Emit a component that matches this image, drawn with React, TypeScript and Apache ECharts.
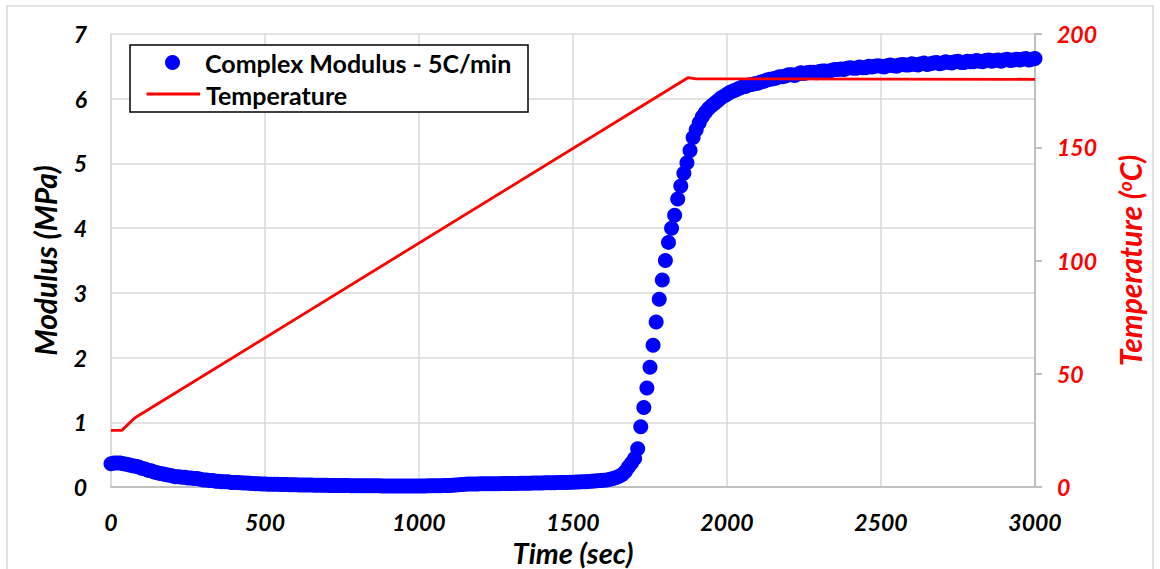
import React, { useEffect, useRef } from "react";
import * as echarts from "echarts";

// Complex modulus sampled every 10 s from t = 0 to t = 3000 s (MPa)
const MODULUS_STEP_SEC = 10;
const MODULUS_MPA = [
  0.36, 0.37, 0.37, 0.37, 0.36, 0.35, 0.34, 0.33, 0.32, 0.31,
  0.29, 0.28, 0.26, 0.25, 0.23, 0.22, 0.21, 0.2, 0.19, 0.18,
  0.17, 0.16, 0.16, 0.15, 0.15, 0.14, 0.14, 0.13, 0.13, 0.12,
  0.11, 0.11, 0.1, 0.1, 0.09, 0.09, 0.08, 0.08, 0.08, 0.07,
  0.07, 0.07, 0.065, 0.06, 0.06, 0.057, 0.055, 0.052, 0.05, 0.048,
  0.045, 0.044, 0.043, 0.042, 0.041, 0.04, 0.038, 0.037, 0.035, 0.034,
  0.033, 0.032, 0.031, 0.03, 0.03, 0.029, 0.028, 0.028, 0.027, 0.026,
  0.026, 0.025, 0.025, 0.024, 0.023, 0.023, 0.022, 0.022, 0.021, 0.021,
  0.02, 0.02, 0.02, 0.019, 0.019, 0.018, 0.018, 0.018, 0.017, 0.017,
  0.017, 0.016, 0.016, 0.016, 0.015, 0.015, 0.015, 0.015, 0.016, 0.016,
  0.016, 0.017, 0.017, 0.018, 0.018, 0.019, 0.02, 0.021, 0.022, 0.023,
  0.025, 0.027, 0.03, 0.033, 0.037, 0.041, 0.045, 0.046, 0.047, 0.048,
  0.049, 0.05, 0.05, 0.051, 0.051, 0.052, 0.052, 0.053, 0.053, 0.054,
  0.055, 0.055, 0.056, 0.057, 0.058, 0.058, 0.059, 0.06, 0.061, 0.062,
  0.063, 0.064, 0.065, 0.066, 0.067, 0.068, 0.069, 0.07, 0.071, 0.072,
  0.074, 0.076, 0.078, 0.08, 0.082, 0.085, 0.088, 0.091, 0.095, 0.1,
  0.105, 0.11, 0.12, 0.13, 0.145, 0.165, 0.195, 0.24, 0.31, 0.37,
  0.44, 0.59, 0.93, 1.23, 1.53, 1.85, 2.19, 2.55, 2.9, 3.2,
  3.5, 3.78, 4.0, 4.2, 4.45, 4.65, 4.85, 5.01, 5.2, 5.4,
  5.52, 5.63, 5.72, 5.79, 5.85, 5.89, 5.93, 5.97, 6.01, 6.04,
  6.07, 6.1, 6.12, 6.14, 6.16, 6.18, 6.19, 6.21, 6.22, 6.23,
  6.24, 6.26, 6.27, 6.29, 6.3, 6.31, 6.32, 6.34, 6.34, 6.35,
  6.37, 6.37, 6.36, 6.38, 6.4, 6.39, 6.4, 6.41, 6.41, 6.4,
  6.42, 6.43, 6.43, 6.42, 6.44, 6.45, 6.45, 6.46, 6.45, 6.47,
  6.48, 6.47, 6.47, 6.49, 6.48, 6.48, 6.5, 6.49, 6.5, 6.51,
  6.5, 6.49, 6.51, 6.52, 6.51, 6.5, 6.52, 6.53, 6.52, 6.52,
  6.54, 6.53, 6.52, 6.54, 6.55, 6.53, 6.54, 6.55, 6.56, 6.54,
  6.55, 6.57, 6.56, 6.55, 6.57, 6.58, 6.56, 6.56, 6.58, 6.57,
  6.57, 6.59, 6.58, 6.57, 6.59, 6.6, 6.58, 6.59, 6.6, 6.58,
  6.6, 6.61, 6.59, 6.6, 6.61, 6.6, 6.61, 6.62, 6.6, 6.61,
  6.62,
];

// Programmed temperature profile: hold, 5 C/min ramp, isothermal hold
const TEMP_TIME_SEC = [0, 35, 78, 1873, 1900, 3000];
const TEMP_C = [25, 25, 30.6, 180.7, 180.2, 180];

const X_TICKS = { min: 0, max: 3000, interval: 500 };
const Y_LEFT_TICKS = { min: 0, max: 7, interval: 1 };
const Y_RIGHT_TICKS = { min: 0, max: 200, interval: 50 };

const SERIES_MODULUS = "Complex Modulus - 5C/min";
const SERIES_TEMP = "Temperature";

const MODULUS_COLOR = "#0000ff";
const TEMP_COLOR = "#ff0000";
const FONT = 'Lato, "Open Sans", "DejaVu Sans", sans-serif';

export default function App() {
  const ref = useRef<HTMLDivElement>(null);

  useEffect(() => {
    if (!ref.current) return;
    const chart = echarts.init(ref.current, null, { renderer: "svg" });

    const modulusData = MODULUS_MPA.map((v, i) => [i * MODULUS_STEP_SEC, v]);
    const tempData = TEMP_TIME_SEC.map((t, i) => [t, TEMP_C[i]]);

    const tickLabel = (color: string) => ({
      fontFamily: FONT,
      fontWeight: "bold" as const,
      fontStyle: "italic" as const,
      fontSize: 23,
      color,
      formatter: (v: number) => String(v),
    });
    const axisName = (color: string, size: number) => ({
      fontFamily: FONT,
      fontWeight: "bold" as const,
      fontStyle: "italic" as const,
      fontSize: size,
      lineHeight: size,
      color,
    });
    const legendText = {
      fontFamily: FONT,
      fontWeight: "bold" as const,
      fontSize: 25,
      fill: "#000000",
      verticalAlign: "middle" as const,
      align: "left" as const,
    };

    chart.setOption({
      animation: false,
      backgroundColor: "#ffffff",
      grid: {
        left: 111,
        right: 125,
        top: 34,
        bottom: 82,
        containLabel: false,
        outerBoundsMode: "none",
      },
      xAxis: {
        type: "value",
        ...X_TICKS,
        name: "Time (sec)",
        nameLocation: "middle",
        nameGap: 40,
        nameTextStyle: axisName("#000000", 29),
        axisLine: { show: true, lineStyle: { color: "#bfbfbf", width: 2 } },
        axisTick: { show: false },
        axisLabel: { ...tickLabel("#000000"), margin: 23 },
        splitLine: { show: true, lineStyle: { color: "#d9d9d9", width: 1.5 } },
      },
      yAxis: [
        {
          type: "value",
          position: "left",
          ...Y_LEFT_TICKS,
          name: "Modulus (MPa)",
          nameLocation: "middle",
          nameRotate: 90,
          nameGap: 51,
          nameTextStyle: axisName("#000000", 30),
          axisLine: { show: true, lineStyle: { color: "#d9d9d9", width: 1.5 } },
          axisTick: { show: false },
          axisLabel: { ...tickLabel("#000000"), margin: 24 },
          splitLine: { show: true, lineStyle: { color: "#d9d9d9", width: 1.5 } },
        },
        {
          type: "value",
          position: "right",
          ...Y_RIGHT_TICKS,
          name: "Temperature ({sup|o}C)",
          nameLocation: "middle",
          nameRotate: 90,
          nameGap: 80,
          nameTextStyle: {
            ...axisName(TEMP_COLOR, 30),
            rich: {
              sup: {
                fontFamily: FONT,
                fontWeight: "bold",
                fontStyle: "italic",
                fontSize: 19,
                color: TEMP_COLOR,
                verticalAlign: "top",
              },
            },
          },
          axisLine: { show: true, lineStyle: { color: "#bfbfbf", width: 2 } },
          axisTick: { show: true, length: 7, lineStyle: { color: "#bfbfbf", width: 2 } },
          axisLabel: { ...tickLabel(TEMP_COLOR), margin: 22 },
          splitLine: { show: false },
        },
      ],
      graphic: [
        {
          type: "rect",
          silent: true,
          z: 0,
          shape: { x: 7, y: 6, width: 1146, height: 600 },
          style: { fill: "none", stroke: "#d9d9d9", lineWidth: 1.5 },
        },
        {
          type: "group",
          silent: true,
          z: 10,
          children: [
            {
              type: "rect",
              z: 10,
              shape: { x: 130, y: 45, width: 398, height: 67 },
              style: { fill: "#ffffff", stroke: "#000000", lineWidth: 1.5 },
            },
            {
              type: "circle",
              z: 11,
              shape: { cx: 172.5, cy: 62.5, r: 7.5 },
              style: { fill: MODULUS_COLOR },
            },
            {
              type: "text",
              z: 11,
              x: 205,
              y: 63,
              style: { ...legendText, text: SERIES_MODULUS },
            },
            {
              type: "line",
              z: 11,
              shape: { x1: 146.5, y1: 94, x2: 200, y2: 94 },
              style: { stroke: TEMP_COLOR, lineWidth: 3 },
            },
            {
              type: "text",
              z: 11,
              x: 206,
              y: 95,
              style: { ...legendText, text: SERIES_TEMP },
            },
          ],
        },
      ],
      series: [
        {
          name: SERIES_MODULUS,
          type: "scatter",
          yAxisIndex: 0,
          symbol: "circle",
          symbolSize: 15,
          clip: false,
          z: 3,
          itemStyle: { color: MODULUS_COLOR, opacity: 1 },
          data: modulusData,
        },
        {
          name: SERIES_TEMP,
          type: "line",
          yAxisIndex: 1,
          symbol: "none",
          z: 4,
          lineStyle: { color: TEMP_COLOR, width: 2.8 },
          itemStyle: { color: TEMP_COLOR },
          data: tempData,
        },
      ],
    });

    return () => chart.dispose();
  }, []);

  return (
    <div
      ref={ref}
      style={{ position: "absolute", left: 0, top: 0, width: 1160, height: 569, background: "#ffffff" }}
    />
  );
}
